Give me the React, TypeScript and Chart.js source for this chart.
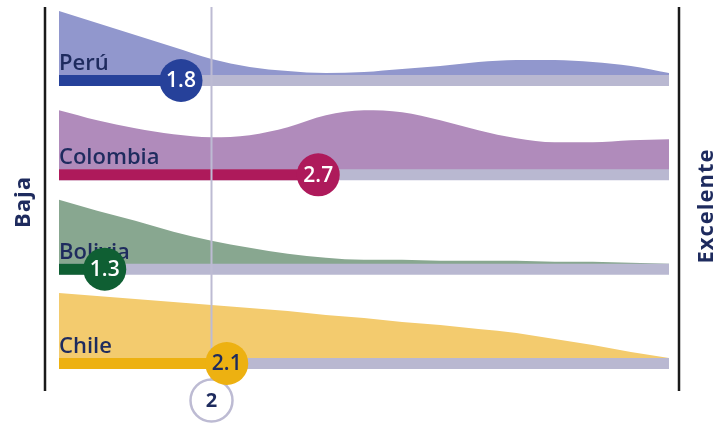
import React, { useEffect, useRef } from "react";
import { Chart, registerables } from "chart.js";

Chart.register(...registerables);

// ---- data ----
const scaleMin = 1;
const scaleMax = 5;
const referenceScore = 2;
const axisLabels = ["Baja", "Excelente"];
const countries = ["Perú", "Colombia", "Bolivia", "Chile"];
const scores = [1.8, 2.7, 1.3, 2.1];
const scoreLabels = ["1.8", "2.7", "1.3", "2.1"];
const xGrid = [1, 1.25, 1.5, 1.75, 2, 2.25, 2.5, 2.75, 3, 3.25, 3.5, 3.75, 4, 4.25, 4.5, 4.75, 5];
const densityPeru = [64, 52, 40, 28, 16, 8, 4, 2, 3, 6, 9, 13, 15, 15, 13, 9, 2];
const densityColombia = [59, 49, 41, 35, 32, 34, 42, 54, 59, 57, 49, 39, 31, 27, 27, 29, 30];
const densityBolivia = [64, 53, 43, 32, 23, 16, 10, 6, 4, 4, 3, 3, 3, 2, 2, 1, 0];
const densityChile = [65, 62, 59, 56, 53, 50, 47, 43, 40, 36, 33, 29, 25, 19, 13, 6, 0];
const densities = [densityPeru, densityColombia, densityBolivia, densityChile];

// ---- styles ----
const areaColors = ["#9197CD", "#B08BBB", "#88A790", "#F3CB6E"];
const barColors = ["#26419A", "#AE1A5B", "#0F5F33", "#EDB111"];
const scoreTextColors = ["#FFFFFF", "#FFFFFF", "#FFFFFF", "#1E2B5E"];
const trackColor = "#B9B8D1";
const refColor = "#BDBBD3";
const navy = "#1E2B5E";

const W = 717;
const H = 425;
const rowPx = 94.33;
const firstRowPx = 80.5;
const barPx = 11;
const yMin = -firstRowPx / rowPx;
const yMax = yMin + H / rowPx;
const pxToY = (px: number) => yMin + px / rowPx;

export default function App() {
  const ref = useRef<HTMLCanvasElement | null>(null);

  useEffect(() => {
    if (!ref.current) return;
    const datasets: any[] = [];
    densities.forEach((dens, i) => {
      datasets.push({
        role: "area",
        data: xGrid.map((x, k) => ({ x, y: i - (dens[k] + barPx / 2) / rowPx })),
        backgroundColor: areaColors[i],
        borderWidth: 0,
        borderColor: "rgba(0,0,0,0)",
        pointRadius: 0,
        fill: { value: i },
        cubicInterpolationMode: "monotone",
        order: 50,
      });
    });
    countries.forEach((_, i) => {
      datasets.push({
        role: "track",
        data: [
          { x: scaleMin, y: i },
          { x: scaleMax, y: i },
        ],
        borderColor: trackColor,
        borderWidth: barPx,
        borderCapStyle: "butt",
        pointRadius: 0,
        fill: false,
        order: 40,
      });
    });
    countries.forEach((_, i) => {
      datasets.push({
        role: "bar",
        data: [
          { x: scaleMin, y: i },
          { x: scores[i], y: i },
        ],
        borderColor: barColors[i],
        borderWidth: barPx,
        borderCapStyle: "butt",
        pointRadius: 0,
        fill: false,
        order: 30,
      });
    });
    const refBottomY = pxToY(400.5);
    datasets.push({
      role: "vline",
      data: [
        { x: referenceScore, y: pxToY(7) },
        { x: referenceScore, y: refBottomY },
      ],
      borderColor: refColor,
      borderWidth: 2,
      pointRadius: 0,
      fill: false,
      order: 20,
    });
    datasets.push({
      role: "refdot",
      data: [{ x: referenceScore, y: refBottomY }],
      showLine: false,
      pointRadius: 21,
      pointBackgroundColor: "#FFFFFF",
      pointBorderColor: refColor,
      pointBorderWidth: 2.5,
      order: 15,
    });
    countries.forEach((_, i) => {
      datasets.push({
        role: "dot",
        data: [{ x: scores[i], y: i }],
        showLine: false,
        pointRadius: 21.5,
        pointBackgroundColor: barColors[i],
        pointBorderWidth: 0,
        pointBorderColor: barColors[i],
        order: 10,
      });
    });

    const textPlugin = {
      id: "texts",
      afterDatasetDraw(chart: any, args: any) {
        const ds = chart.data.datasets[args.index];
        if (ds.role !== "vline") return;
        const ctx = chart.ctx;
        const xs = chart.scales.x;
        const ys = chart.scales.y;
        ctx.save();
        ctx.fillStyle = navy;
        ctx.font = "600 22px 'Open Sans'";
        ctx.textAlign = "left";
        ctx.textBaseline = "alphabetic";
        countries.forEach((c, i) => {
          ctx.fillText(c, xs.getPixelForValue(scaleMin), ys.getPixelForValue(i) - 10.5);
        });
        ctx.restore();
      },
      afterDatasetsDraw(chart: any) {
        const ctx = chart.ctx;
        const xs = chart.scales.x;
        const ys = chart.scales.y;
        const area = chart.chartArea;
        ctx.save();
        ctx.textAlign = "center";
        ctx.textBaseline = "middle";
        ctx.font = "600 21px 'Open Sans'";
        countries.forEach((_, i) => {
          ctx.fillStyle = scoreTextColors[i];
          ctx.fillText(scoreLabels[i], xs.getPixelForValue(scores[i]), ys.getPixelForValue(i) + 1);
        });
        ctx.fillStyle = navy;
        ctx.font = "700 20px 'Open Sans'";
        ctx.fillText(String(referenceScore), xs.getPixelForValue(referenceScore), ys.getPixelForValue(refBottomY) + 1);

        // frame lines
        ctx.strokeStyle = "#1A1A1A";
        ctx.lineWidth = 2.5;
        const top = 7;
        const bottom = 391;
        const lx = area.left - 14;
        const rx = area.right + 10;
        ctx.beginPath();
        ctx.moveTo(lx, top);
        ctx.lineTo(lx, bottom);
        ctx.moveTo(rx, top);
        ctx.lineTo(rx, bottom);
        ctx.stroke();

        // axis end labels
        ctx.fillStyle = navy;
        ctx.font = "700 22px 'Open Sans'";
        (ctx as any).letterSpacing = "1px";
        ctx.save();
        ctx.translate(24, 202);
        ctx.rotate(-Math.PI / 2);
        ctx.fillText(axisLabels[0], 0, 0);
        ctx.restore();
        ctx.save();
        ctx.translate(707, 206);
        ctx.rotate(-Math.PI / 2);
        ctx.fillText(axisLabels[1], 0, 0);
        ctx.restore();
        ctx.restore();
      },
    };

    const chart = new Chart(ref.current, {
      type: "line",
      data: { datasets },
      options: {
        animation: false,
        responsive: true,
        maintainAspectRatio: false,
        layout: { autoPadding: false, padding: { left: 59, right: 48, top: 0, bottom: 0 } },
        plugins: { legend: { display: false }, tooltip: { enabled: false } },
        events: [],
        scales: {
          x: { type: "linear", min: scaleMin, max: scaleMax, display: false },
          y: { type: "linear", min: yMin, max: yMax, reverse: true, display: false },
        },
      } as any,
      plugins: [textPlugin],
    });
    return () => chart.destroy();
  }, []);

  return (
    <div style={{ position: "fixed", left: 0, top: 0, width: W, height: H, background: "#fff" }}>
      <canvas ref={ref} />
    </div>
  );
}
